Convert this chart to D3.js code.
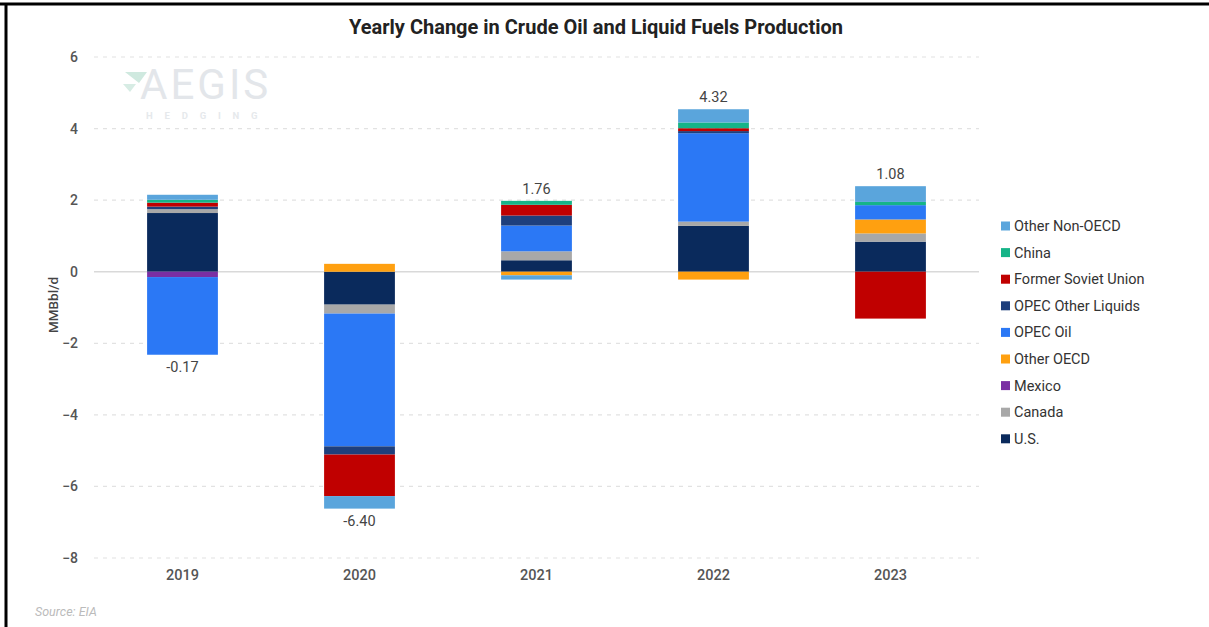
<!DOCTYPE html>
<html>
<head>
<meta charset="utf-8">
<script src="https://cdn.jsdelivr.net/npm/d3@7"></script>
<style>
  html, body { margin: 0; padding: 0; background: #fff; }
  svg { display: block; }
</style>
</head>
<body>
<svg id="chart" width="1209" height="627"></svg>
<script>
// ---- Data ----
const years = ["2019", "2020", "2021", "2022", "2023"];
const seriesNames = ["U.S.", "Canada", "Mexico", "Other OECD", "OPEC Oil", "OPEC Other Liquids", "Former Soviet Union", "China", "Other Non-OECD"];
const usValues        = [1.64, -0.92, 0.32, 1.28, 0.84];
const canadaValues    = [0.11, -0.25, 0.25, 0.12, 0.23];
const mexicoValues    = [-0.15, 0.00, 0.00, 0.00, 0.00];
const otherOecdValues = [0.00, 0.22, -0.10, -0.22, 0.39];
const opecOilValues   = [-2.17, -3.71, 0.72, 2.47, 0.40];
const opecOtherValues = [0.07, -0.23, 0.28, 0.06, 0.00];
const fsuValues       = [0.11, -1.16, 0.30, 0.08, -1.31];
const chinaValues     = [0.08, 0.00, 0.11, 0.16, 0.09];
const otherNonOecdValues = [0.14, -0.35, -0.12, 0.37, 0.44];
const totalLabels = ["-0.17", "-6.40", "1.76", "4.32", "1.08"];
const totalValues = [-0.17, -6.40, 1.76, 4.32, 1.08];
const yTicks = [6, 4, 2, 0, -2, -4, -6, -8];
const legendOrder = ["Other Non-OECD", "China", "Former Soviet Union", "OPEC Other Liquids", "OPEC Oil", "Other OECD", "Mexico", "Canada", "U.S."];

const colors = {
  "U.S.": "#0a2a5c",
  "Canada": "#a8a8a8",
  "Mexico": "#7a2fa3",
  "Other OECD": "#ffa010",
  "OPEC Oil": "#2b78f5",
  "OPEC Other Liquids": "#1e3f7c",
  "Former Soviet Union": "#c00000",
  "China": "#16b488",
  "Other Non-OECD": "#5aa5dc"
};

const seriesValues = {
  "U.S.": usValues, "Canada": canadaValues, "Mexico": mexicoValues,
  "Other OECD": otherOecdValues, "OPEC Oil": opecOilValues,
  "OPEC Other Liquids": opecOtherValues, "Former Soviet Union": fsuValues,
  "China": chinaValues, "Other Non-OECD": otherNonOecdValues
};

const table = years.map((y, i) => {
  const row = { year: y };
  seriesNames.forEach(s => row[s] = seriesValues[s][i]);
  return row;
});

// ---- Layout ----
const svg = d3.select("#chart");
const W = 1209, H = 627;
const plotLeft = 94, plotRight = 979, plotTop = 57, plotBottom = 558;
const FONT = "Roboto, sans-serif";

// border (top & left like the reference crop)
svg.append("line").attr("x1", 0).attr("x2", W).attr("y1", 4).attr("y2", 4)
  .attr("stroke", "#000").attr("stroke-width", 3);
svg.append("line").attr("x1", 6).attr("x2", 6).attr("y1", 3).attr("y2", H)
  .attr("stroke", "#000").attr("stroke-width", 3);

const x = d3.scaleBand().domain(years).range([plotLeft, plotRight]).paddingInner(0.6).paddingOuter(0.3);
const y = d3.scaleLinear().domain([-8, 6]).range([plotBottom, plotTop]);

// watermark
const wm = svg.append("g");
wm.append("path").attr("d", "M125,72 L147,72 L139,83 Z").attr("fill", "#cfe9df");
wm.append("path").attr("d", "M123,84 L136,84 L130,92 Z").attr("fill", "#d7ece4");
wm.append("text").attr("x", 140).attr("y", 99).attr("font-family", FONT)
  .attr("font-size", 42).attr("fill", "#e3e6ea").attr("letter-spacing", 3).text("AEGIS");
wm.append("text").attr("x", 146).attr("y", 119).attr("font-family", FONT)
  .attr("font-size", 9.5).attr("font-weight", 700).attr("fill", "#e6e9ec").attr("letter-spacing", 11.8).text("HEDGING");

// gridlines
const grid = svg.append("g");
yTicks.forEach(t => {
  grid.append("line")
    .attr("x1", plotLeft).attr("x2", plotRight)
    .attr("y1", y(t)).attr("y2", y(t))
    .attr("stroke", t === 0 ? "#d9d9d9" : "#e2e2e2")
    .attr("stroke-width", t === 0 ? 1.5 : 1.2)
    .attr("stroke-dasharray", t === 0 ? null : "4,5");
});

// y axis
const yAxis = d3.axisLeft(y).tickValues(yTicks).tickSize(0).tickPadding(0).tickFormat(d3.format("d"));
const yg = svg.append("g").attr("transform", `translate(78,0)`).call(yAxis);
yg.select(".domain").remove();
yg.selectAll("text").attr("font-family", FONT).attr("font-size", 14)
  .attr("font-weight", 500).attr("fill", "#555");

// x axis
const xAxis = d3.axisBottom(x).tickSize(0).tickPadding(0);
const xg = svg.append("g").attr("transform", `translate(0,570)`).call(xAxis);
xg.select(".domain").remove();
xg.selectAll("text").attr("font-family", FONT).attr("font-size", 14.5)
  .attr("font-weight", 500).attr("fill", "#555");

// y label
svg.append("text").attr("transform", "translate(58,305) rotate(-90)")
  .attr("text-anchor", "middle").attr("font-family", FONT)
  .attr("font-size", 13.5).attr("font-weight", 500).attr("fill", "#444").text("MMBbl/d");

// stacks
const stack = d3.stack().keys(seriesNames).offset(d3.stackOffsetDiverging);
const stacked = stack(table);
const bars = svg.append("g");
stacked.forEach(layer => {
  bars.selectAll(null).data(layer).enter().append("rect")
    .attr("x", d => x(d.data.year))
    .attr("width", x.bandwidth())
    .attr("y", d => y(Math.max(d[0], d[1])))
    .attr("height", d => Math.abs(y(d[0]) - y(d[1])))
    .attr("fill", colors[layer.key]);
});

// total labels
years.forEach((yr, i) => {
  const row = table[i];
  let pos = 0, neg = 0;
  seriesNames.forEach(s => { if (row[s] > 0) pos += row[s]; else neg += row[s]; });
  const isNeg = totalValues[i] < 0;
  svg.append("text")
    .attr("x", x(yr) + x.bandwidth() / 2)
    .attr("y", isNeg ? y(neg) + 17 : y(pos) - 7)
    .attr("text-anchor", "middle")
    .attr("font-family", FONT).attr("font-size", 14.5).attr("font-weight", 400)
    .attr("fill", "#444").text(totalLabels[i]);
});

// title
svg.append("text").attr("x", 596).attr("y", 34).attr("text-anchor", "middle")
  .attr("font-family", FONT).attr("font-size", 20).attr("font-weight", 700)
  .attr("fill", "#222").text("Yearly Change in Crude Oil and Liquid Fuels Production");

// legend
const lg = svg.append("g").attr("transform", "translate(1001,226)");
legendOrder.forEach((name, i) => {
  const g = lg.append("g").attr("transform", `translate(0,${i * 26.6})`);
  g.append("rect").attr("x", 0).attr("y", -4.5).attr("width", 9).attr("height", 9).attr("fill", colors[name]);
  g.append("text").attr("x", 13).attr("y", 5).attr("font-family", FONT)
    .attr("font-size", 14.5).attr("fill", "#333").text(name);
});

// source
svg.append("text").attr("x", 35).attr("y", 616).attr("font-family", FONT)
  .attr("font-size", 12.5).attr("font-style", "italic").attr("fill", "#bbb").text("Source: EIA");
</script>
</body>
</html>
